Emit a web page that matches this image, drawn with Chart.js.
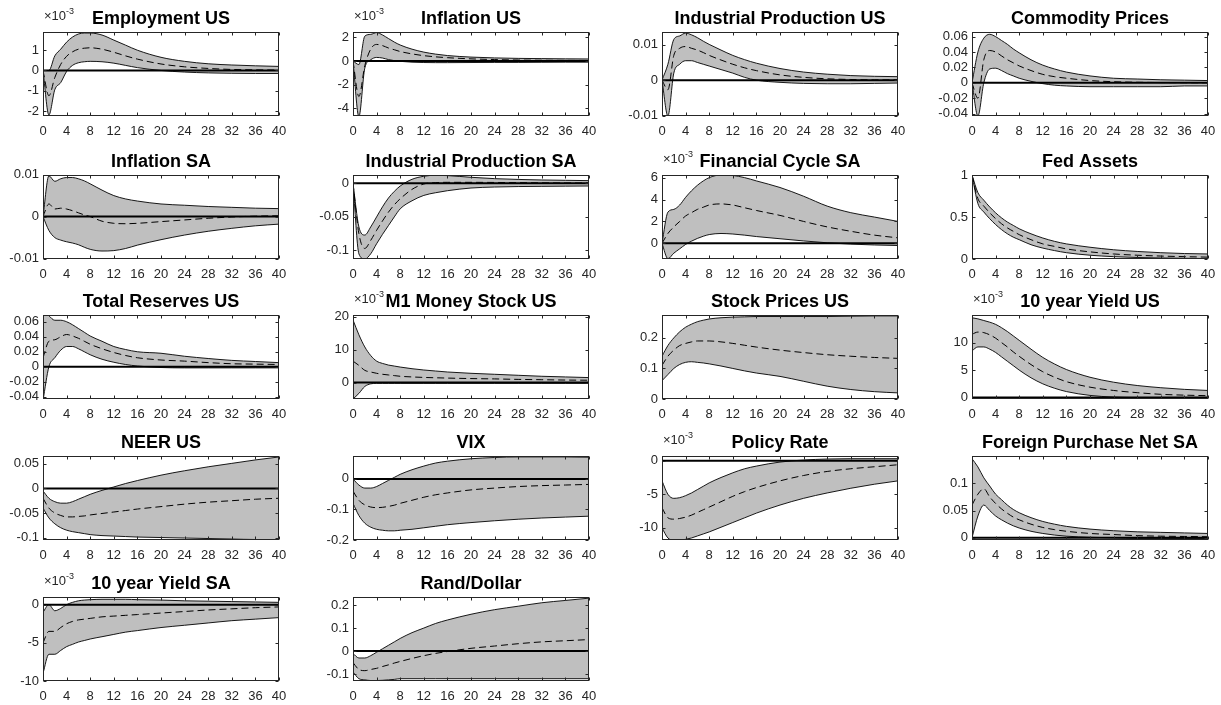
<!DOCTYPE html>
<html>
<head>
<meta charset="utf-8">
<script src="https://cdn.jsdelivr.net/npm/chart.js@4.4.1/dist/chart.umd.min.js"></script>
<style>
html, body { margin: 0; padding: 0; background: #fff; }
#fig { position: relative; width: 1221px; height: 705px; overflow: hidden; background: #fff; }
#fig canvas { position: absolute; }
</style>
</head>
<body>
<div id="fig"></div>
<script>
// impulse response horizons (quarters) and axis ticks
const horizons = [0, 1, 2, 3, 4, 5, 6, 7, 8, 10, 12, 14, 16, 20, 24, 28, 32, 36, 40];
const xTicks = [0, 4, 8, 12, 16, 20, 24, 28, 32, 36, 40];

// Employment US (x 1e-3)
const empUSHi  = [0, 0.0, 0.72, 1.05, 1.4, 1.65, 1.8, 1.85, 1.85, 1.75, 1.5, 1.25, 1.0, 0.65, 0.45, 0.33, 0.27, 0.23, 0.2];
const empUSMid = [0, -1.25, -0.35, 0.3, 0.7, 0.92, 1.05, 1.1, 1.12, 1.05, 0.9, 0.72, 0.56, 0.32, 0.18, 0.1, 0.05, 0.03, 0.02];
const empUSLo  = [0, -2.2, -0.95, -0.6, -0.05, 0.25, 0.38, 0.43, 0.45, 0.43, 0.36, 0.25, 0.14, 0.0, -0.08, -0.12, -0.14, -0.15, -0.15];

// Inflation US (x 1e-3)
const inflUSHi  = [0, -0.3, 2.1, 2.25, 2.4, 2.2, 1.9, 1.6, 1.35, 1.0, 0.75, 0.58, 0.46, 0.33, 0.26, 0.22, 0.2, 0.18, 0.17];
const inflUSMid = [0, -3.0, -0.4, 1.0, 1.4, 1.3, 1.1, 0.95, 0.8, 0.6, 0.45, 0.35, 0.28, 0.18, 0.12, 0.08, 0.06, 0.05, 0.04];
const inflUSLo  = [0, -4.7, -0.6, 0.1, 0.3, 0.25, 0.12, 0.03, -0.03, -0.1, -0.13, -0.14, -0.14, -0.13, -0.12, -0.12, -0.11, -0.1, -0.1];

// Industrial Production US
const ipUSHi  = [0, 0.0045, 0.0115, 0.0125, 0.0133, 0.0128, 0.012, 0.011, 0.0101, 0.0085, 0.007, 0.0058, 0.0048, 0.0033, 0.0023, 0.0017, 0.0013, 0.0011, 0.001];
const ipUSMid = [0, -0.0027, 0.007, 0.009, 0.0095, 0.009, 0.0085, 0.0078, 0.007, 0.0057, 0.0045, 0.0035, 0.0027, 0.0015, 0.0008, 0.0004, 0.0002, 0.0001, 0.0001];
const ipUSLo  = [0, -0.0101, 0.002, 0.0045, 0.0055, 0.0055, 0.005, 0.0045, 0.004, 0.003, 0.002, 0.0008, 0.0, -0.0006, -0.0009, -0.001, -0.001, -0.0009, -0.0008];

// Commodity Prices
const comHi  = [0, 0.04, 0.058, 0.063, 0.06, 0.055, 0.05, 0.044, 0.039, 0.03, 0.023, 0.018, 0.014, 0.009, 0.006, 0.005, 0.004, 0.0035, 0.003];
const comMid = [0, -0.02, 0.03, 0.042, 0.04, 0.035, 0.03, 0.026, 0.022, 0.016, 0.011, 0.008, 0.006, 0.003, 0.0015, 0.0008, 0.0004, 0.0002, 0.0001];
const comLo  = [0, -0.043, 0.0, 0.018, 0.019, 0.016, 0.012, 0.009, 0.006, 0.002, -0.001, -0.003, -0.004, -0.005, -0.005, -0.005, -0.005, -0.004, -0.004];

// Inflation SA
const inflSAHi  = [0, 0.0097, 0.0084, 0.009, 0.0093, 0.0093, 0.009, 0.0085, 0.0078, 0.0063, 0.005, 0.0042, 0.0037, 0.003, 0.0027, 0.0024, 0.0022, 0.002, 0.0019];
const inflSAMid = [0, 0.003, 0.0018, 0.002, 0.0018, 0.0014, 0.0009, 0.0004, 0, -0.0011, -0.0016, -0.0017, -0.0016, -0.0012, -0.0008, -0.0004, -0.0001, 0.0001, 0.0002];
const inflSALo  = [0, -0.0033, -0.005, -0.0056, -0.006, -0.0063, -0.0067, -0.0073, -0.0078, -0.0082, -0.0081, -0.0076, -0.0068, -0.0055, -0.0044, -0.0035, -0.0028, -0.0022, -0.0018];

// Industrial Production SA
const ipSAHi  = [0, -0.065, -0.077, -0.065, -0.05, -0.035, -0.022, -0.012, -0.004, 0.006, 0.0105, 0.012, 0.0115, 0.009, 0.007, 0.0058, 0.005, 0.0045, 0.004];
const ipSAMid = [0, -0.075, -0.097, -0.085, -0.07, -0.056, -0.043, -0.032, -0.023, -0.009, -0.001, 0.001, 0.0015, 0.0015, 0.0013, 0.001, 0.0008, 0.0006, 0.0005];
const ipSALo  = [0, -0.105, -0.113, -0.105, -0.09, -0.076, -0.063, -0.05, -0.038, -0.026, -0.018, -0.014, -0.011, -0.007, -0.0055, -0.0048, -0.0045, -0.0042, -0.004];

// Financial Cycle SA (x 1e-3)
const fcHi  = [0, 2.85, 3.1, 3.5, 4.2, 4.8, 5.3, 5.7, 6.0, 6.25, 6.2, 6.0, 5.7, 5.1, 4.3, 3.4, 2.8, 2.4, 2.0];
const fcMid = [0, 0.9, 1.5, 2.0, 2.5, 2.8, 3.1, 3.3, 3.5, 3.6, 3.5, 3.25, 3.0, 2.55, 2.0, 1.5, 1.1, 0.75, 0.5];
const fcLo  = [0, -1.4, -0.9, -0.5, -0.1, 0.2, 0.45, 0.65, 0.8, 0.9, 0.85, 0.75, 0.62, 0.42, 0.22, 0.05, -0.07, -0.15, -0.2];

// Fed Assets
const fedHi  = [1, 0.79, 0.7, 0.62, 0.55, 0.49, 0.44, 0.4, 0.36, 0.3, 0.25, 0.21, 0.18, 0.14, 0.11, 0.09, 0.075, 0.065, 0.06];
const fedMid = [1, 0.72, 0.63, 0.55, 0.48, 0.42, 0.37, 0.33, 0.29, 0.23, 0.18, 0.15, 0.12, 0.085, 0.06, 0.045, 0.035, 0.028, 0.022];
const fedLo  = [1, 0.66, 0.56, 0.48, 0.41, 0.35, 0.3, 0.26, 0.23, 0.17, 0.13, 0.1, 0.075, 0.045, 0.028, 0.018, 0.012, 0.008, 0.005];

// Total Reserves US
const resHi  = [0.075, 0.068, 0.062, 0.062, 0.06, 0.056, 0.051, 0.046, 0.041, 0.034, 0.027, 0.023, 0.02, 0.018, 0.014, 0.011, 0.0085, 0.007, 0.0055];
const resMid = [0.012, 0.034, 0.036, 0.04, 0.043, 0.041, 0.038, 0.034, 0.03, 0.024, 0.019, 0.015, 0.012, 0.009, 0.0075, 0.0055, 0.004, 0.0035, 0.003];
const resLo  = [-0.045, 0.0, 0.012, 0.022, 0.027, 0.027, 0.024, 0.02, 0.016, 0.01, 0.006, 0.003, 0.001, -0.001, -0.0015, -0.0015, -0.0015, -0.0015, -0.0015];

// M1 Money Stock US (x 1e-3)
const m1Hi  = [19, 14.5, 10.8, 8.2, 6.5, 5.8, 5.3, 5.0, 4.7, 4.2, 3.8, 3.5, 3.2, 2.8, 2.5, 2.2, 1.9, 1.7, 1.5];
const m1Mid = [6.5, 5.2, 3.7, 3.2, 2.8, 2.5, 2.3, 2.1, 1.9, 1.7, 1.55, 1.45, 1.35, 1.2, 1.1, 0.95, 0.85, 0.75, 0.7];
const m1Lo  = [-5, -3.3, -1.2, -0.4, -0.25, -0.25, -0.25, -0.25, -0.25, -0.25, -0.25, -0.25, -0.25, -0.25, -0.25, -0.25, -0.25, -0.25, -0.25];

// Stock Prices US
const stkHi  = [0.14, 0.175, 0.2, 0.22, 0.235, 0.245, 0.253, 0.258, 0.262, 0.266, 0.268, 0.269, 0.27, 0.27, 0.27, 0.27, 0.271, 0.272, 0.272];
const stkMid = [0.11, 0.14, 0.16, 0.175, 0.182, 0.187, 0.19, 0.19, 0.19, 0.187, 0.182, 0.176, 0.17, 0.16, 0.152, 0.145, 0.14, 0.136, 0.133];
const stkLo  = [0.06, 0.08, 0.1, 0.113, 0.12, 0.122, 0.12, 0.118, 0.115, 0.108, 0.1, 0.092, 0.085, 0.074, 0.058, 0.042, 0.031, 0.024, 0.02];

// 10 year Yield US (x 1e-3)
const y10USHi  = [14.5, 14.3, 14.0, 13.7, 13.3, 12.7, 12.0, 11.2, 10.4, 8.8, 7.3, 6.1, 5.1, 3.7, 2.8, 2.2, 1.8, 1.5, 1.3];
const y10USMid = [11.5, 11.9, 11.8, 11.4, 10.8, 10.0, 9.2, 8.3, 7.5, 6.0, 4.7, 3.7, 2.9, 1.9, 1.3, 0.9, 0.6, 0.45, 0.35];
const y10USLo  = [8.5, 9.2, 9.2, 8.8, 8.2, 7.4, 6.6, 5.8, 5.0, 3.6, 2.5, 1.7, 1.1, 0.4, 0.1, 0.0, -0.1, -0.1, -0.1];

// NEER US
const neerHi  = [-0.005, -0.02, -0.027, -0.03, -0.03, -0.027, -0.022, -0.017, -0.012, -0.004, 0.003, 0.01, 0.016, 0.027, 0.036, 0.044, 0.051, 0.058, 0.064];
const neerMid = [-0.02, -0.04, -0.05, -0.055, -0.058, -0.058, -0.057, -0.056, -0.054, -0.051, -0.048, -0.045, -0.042, -0.037, -0.032, -0.028, -0.025, -0.022, -0.02];
const neerLo  = [-0.04, -0.06, -0.072, -0.08, -0.085, -0.088, -0.09, -0.092, -0.094, -0.096, -0.097, -0.098, -0.099, -0.1, -0.101, -0.102, -0.103, -0.104, -0.104];

// VIX
const vixHi  = [0, -0.02, -0.03, -0.03, -0.025, -0.015, -0.005, 0.005, 0.015, 0.03, 0.042, 0.052, 0.058, 0.066, 0.07, 0.072, 0.072, 0.072, 0.071];
const vixMid = [-0.04, -0.07, -0.085, -0.092, -0.094, -0.093, -0.09, -0.086, -0.08, -0.07, -0.06, -0.052, -0.046, -0.036, -0.03, -0.025, -0.022, -0.02, -0.018];
const vixLo  = [-0.08, -0.12, -0.145, -0.158, -0.165, -0.168, -0.17, -0.17, -0.168, -0.165, -0.16, -0.155, -0.15, -0.143, -0.137, -0.132, -0.128, -0.125, -0.122];

// Policy Rate (x 1e-3)
const polHi  = [-3, -5, -5.6, -5.5, -5.2, -4.8, -4.3, -3.8, -3.3, -2.5, -1.8, -1.2, -0.8, -0.2, 0.1, 0.25, 0.3, 0.3, 0.3];
const polMid = [-7, -8.5, -8.7, -8.6, -8.4, -8.1, -7.7, -7.3, -6.9, -6.1, -5.3, -4.6, -4.0, -3.0, -2.2, -1.6, -1.2, -0.9, -0.6];
const polLo  = [-10, -11.5, -11.8, -11.8, -11.7, -11.5, -11.2, -10.9, -10.6, -9.9, -9.2, -8.5, -7.8, -6.6, -5.6, -4.8, -4.1, -3.5, -3.0];

// Foreign Purchase Net SA
const fpHi  = [0.145, 0.13, 0.11, 0.095, 0.08, 0.07, 0.06, 0.052, 0.046, 0.037, 0.03, 0.025, 0.021, 0.016, 0.013, 0.011, 0.01, 0.009, 0.008];
const fpMid = [0.06, 0.08, 0.09, 0.075, 0.063, 0.053, 0.045, 0.038, 0.033, 0.025, 0.019, 0.015, 0.012, 0.008, 0.006, 0.004, 0.003, 0.0025, 0.002];
const fpLo  = [0.0, 0.04, 0.06, 0.05, 0.04, 0.033, 0.027, 0.022, 0.018, 0.012, 0.008, 0.005, 0.003, 0.001, 0.0, -0.001, -0.001, -0.001, -0.001];

// 10 year Yield SA (x 1e-3)
const y10SAHi  = [-1.0, 0, -0.8, -0.5, 0, 0.3, 0.5, 0.6, 0.65, 0.7, 0.7, 0.7, 0.65, 0.6, 0.5, 0.45, 0.4, 0.35, 0.3];
const y10SAMid = [-5, -3.5, -3.5, -3.0, -2.5, -2.2, -2.0, -1.9, -1.8, -1.6, -1.5, -1.4, -1.3, -1.1, -0.9, -0.7, -0.55, -0.4, -0.3];
const y10SALo  = [-9, -6.5, -6.5, -6, -5.5, -5.2, -4.9, -4.7, -4.5, -4.2, -3.9, -3.6, -3.4, -3.0, -2.7, -2.4, -2.1, -1.9, -1.7];

// Rand/Dollar
const randHi  = [-0.01, -0.03, -0.03, -0.02, -0.005, 0.01, 0.025, 0.04, 0.055, 0.08, 0.1, 0.12, 0.135, 0.16, 0.18, 0.195, 0.21, 0.22, 0.23];
const randMid = [-0.05, -0.08, -0.085, -0.08, -0.075, -0.067, -0.06, -0.052, -0.045, -0.032, -0.02, -0.01, -0.002, 0.012, 0.022, 0.032, 0.04, 0.045, 0.05];
const randLo  = [-0.09, -0.12, -0.125, -0.128, -0.128, -0.127, -0.125, -0.123, -0.12, -0.12, -0.12, -0.12, -0.12, -0.12, -0.12, -0.12, -0.12, -0.12, -0.12];

// panel list: title, bands, y range, y ticks and their labels, exponent flag
const panels = [
  { title: 'Employment US', hi: empUSHi, mid: empUSMid, lo: empUSLo, yMin: -2.25, yMax: 1.9, yTicks: [-2, -1, 0, 1], yLabels: ['-2', '-1', '0', '1'], exp: true },
  { title: 'Inflation US', hi: inflUSHi, mid: inflUSMid, lo: inflUSLo, yMin: -4.65, yMax: 2.45, yTicks: [-4, -2, 0, 2], yLabels: ['-4', '-2', '0', '2'], exp: true },
  { title: 'Industrial Production US', hi: ipUSHi, mid: ipUSMid, lo: ipUSLo, yMin: -0.0101, yMax: 0.0136, yTicks: [-0.01, 0, 0.01], yLabels: ['-0.01', '0', '0.01'] },
  { title: 'Commodity Prices', hi: comHi, mid: comMid, lo: comLo, yMin: -0.043, yMax: 0.066, yTicks: [-0.04, -0.02, 0, 0.02, 0.04, 0.06], yLabels: ['-0.04', '-0.02', '0', '0.02', '0.04', '0.06'] },
  { title: 'Inflation SA', hi: inflSAHi, mid: inflSAMid, lo: inflSALo, yMin: -0.0101, yMax: 0.0099, yTicks: [-0.01, 0, 0.01], yLabels: ['-0.01', '0', '0.01'] },
  { title: 'Industrial Production SA', hi: ipSAHi, mid: ipSAMid, lo: ipSALo, yMin: -0.1127, yMax: 0.0124, yTicks: [-0.1, -0.05, 0], yLabels: ['-0.1', '-0.05', '0'] },
  { title: 'Financial Cycle SA', hi: fcHi, mid: fcMid, lo: fcLo, yMin: -1.43, yMax: 6.24, yTicks: [0, 2, 4, 6], yLabels: ['0', '2', '4', '6'], exp: true },
  { title: 'Fed Assets', hi: fedHi, mid: fedMid, lo: fedLo, yMin: 0, yMax: 1, yTicks: [0, 0.5, 1], yLabels: ['0', '0.5', '1'] },
  { title: 'Total Reserves US', hi: resHi, mid: resMid, lo: resLo, yMin: -0.043, yMax: 0.069, yTicks: [-0.04, -0.02, 0, 0.02, 0.04, 0.06], yLabels: ['-0.04', '-0.02', '0', '0.02', '0.04', '0.06'] },
  { title: 'M1 Money Stock US', hi: m1Hi, mid: m1Mid, lo: m1Lo, yMin: -5, yMax: 20.5, yTicks: [0, 10, 20], yLabels: ['0', '10', '20'], exp: true },
  { title: 'Stock Prices US', hi: stkHi, mid: stkMid, lo: stkLo, yMin: 0, yMax: 0.275, yTicks: [0, 0.1, 0.2], yLabels: ['0', '0.1', '0.2'] },
  { title: '10 year Yield US', hi: y10USHi, mid: y10USMid, lo: y10USLo, yMin: -0.25, yMax: 15, yTicks: [0, 5, 10], yLabels: ['0', '5', '10'], exp: true },
  { title: 'NEER US', hi: neerHi, mid: neerMid, lo: neerLo, yMin: -0.105, yMax: 0.066, yTicks: [-0.1, -0.05, 0, 0.05], yLabels: ['-0.1', '-0.05', '0', '0.05'] },
  { title: 'VIX', hi: vixHi, mid: vixMid, lo: vixLo, yMin: -0.2, yMax: 0.075, yTicks: [-0.2, -0.1, 0], yLabels: ['-0.2', '-0.1', '0'] },
  { title: 'Policy Rate', hi: polHi, mid: polMid, lo: polLo, yMin: -11.8, yMax: 0.7, yTicks: [-10, -5, 0], yLabels: ['-10', '-5', '0'], exp: true },
  { title: 'Foreign Purchase Net SA', hi: fpHi, mid: fpMid, lo: fpLo, yMin: -0.004, yMax: 0.15, yTicks: [0, 0.05, 0.1], yLabels: ['0', '0.05', '0.1'] },
  { title: '10 year Yield SA', hi: y10SAHi, mid: y10SAMid, lo: y10SALo, yMin: -10, yMax: 1, yTicks: [-10, -5, 0], yLabels: ['-10', '-5', '0'], exp: true },
  { title: 'Rand/Dollar', hi: randHi, mid: randMid, lo: randLo, yMin: -0.13, yMax: 0.235, yTicks: [-0.1, 0, 0.1, 0.2], yLabels: ['-0.1', '0', '0.1', '0.2'] }
];

const FONT = '"Liberation Sans", Arial, Helvetica, sans-serif';
const AXIS_COLOR = '#262626';
const BAND_COLOR = '#bfbfbf';
const plotLeft = [43, 353, 662, 972];
const plotTop = [32, 175, 315, 456, 597];
const PW = 236, PH = 84;
const MARGIN = 50, TITLE_H = 30, XAXIS_H = 22;

// box around the axes, inward tick marks on all four sides, x10^-3 label
const axesBox = {
  id: 'axesBox',
  afterDatasetsDraw(chart, args, opts) {
    const { ctx, chartArea: a, scales } = chart;
    const x = scales.x, y = scales.y;
    const L = Math.round(a.left) + 0.5, R = Math.round(a.right) - 0.5;
    const T = Math.round(a.top) + 0.5, B = Math.round(a.bottom) - 0.5;
    ctx.save();
    ctx.strokeStyle = AXIS_COLOR;
    ctx.lineWidth = 1;
    ctx.beginPath();
    xTicks.forEach(v => {
      const px = Math.round(x.getPixelForValue(v)) + 0.5;
      ctx.moveTo(px, B); ctx.lineTo(px, B - 3);
      ctx.moveTo(px, T); ctx.lineTo(px, T + 3);
    });
    y.ticks.forEach(t => {
      const py = Math.round(y.getPixelForValue(t.value)) + 0.5;
      ctx.moveTo(L, py); ctx.lineTo(L + 3, py);
      ctx.moveTo(R, py); ctx.lineTo(R - 3, py);
    });
    ctx.stroke();
    ctx.strokeRect(L, T, R - L, B - T);
    if (opts.exp) {
      ctx.fillStyle = AXIS_COLOR;
      ctx.textBaseline = 'alphabetic';
      ctx.textAlign = 'left';
      ctx.font = '13px ' + FONT;
      ctx.fillText('\u00d710', a.left + 1, a.top - 12);
      const w = ctx.measureText('\u00d710').width;
      ctx.font = '9px ' + FONT;
      ctx.fillText('-3', a.left + 1 + w, a.top - 18);
    }
    ctx.restore();
  }
};

const toPoints = arr => horizons.map((h, i) => ({ x: h, y: arr[i] }));

const fig = document.getElementById('fig');

panels.forEach((p, k) => {
  const col = k % 4, row = Math.floor(k / 4);
  const canvas = document.createElement('canvas');
  canvas.width = PW + 2 * MARGIN;
  canvas.height = TITLE_H + PH + XAXIS_H;
  canvas.style.left = (plotLeft[col] - MARGIN) + 'px';
  canvas.style.top = (plotTop[row] - TITLE_H) + 'px';
  fig.appendChild(canvas);

  new Chart(canvas.getContext('2d'), {
    type: 'line',
    data: {
      datasets: [
        { data: [{ x: 0, y: 0 }, { x: 40, y: 0 }], borderColor: '#000', borderWidth: 2, pointRadius: 0, fill: false },
        { data: toPoints(p.hi), borderColor: '#000', borderWidth: 0.9, backgroundColor: BAND_COLOR, fill: '+1', pointRadius: 0, cubicInterpolationMode: 'monotone' },
        { data: toPoints(p.lo), borderColor: '#000', borderWidth: 0.9, fill: false, pointRadius: 0, cubicInterpolationMode: 'monotone' },
        { data: toPoints(p.mid), borderColor: '#000', borderWidth: 1, borderDash: [7, 4], fill: false, pointRadius: 0, cubicInterpolationMode: 'monotone' }
      ]
    },
    options: {
      responsive: false,
      devicePixelRatio: 1,
      animation: false,
      events: [],
      layout: { padding: 0 },
      scales: {
        x: {
          type: 'linear', min: 0, max: 40,
          afterBuildTicks: s => { s.ticks = xTicks.map(v => ({ value: v })); },
          afterFit: s => { s.height = XAXIS_H; },
          grid: { display: false, drawTicks: false },
          border: { display: false },
          ticks: { font: { family: FONT, size: 13 }, color: AXIS_COLOR, padding: 8, maxRotation: 0, autoSkip: false }
        },
        y: {
          type: 'linear', position: 'left', min: p.yMin, max: p.yMax,
          afterBuildTicks: s => { s.ticks = p.yTicks.map(v => ({ value: v })); },
          afterFit: s => { s.width = MARGIN; },
          grid: { display: false, drawTicks: false },
          border: { display: false },
          ticks: { font: { family: FONT, size: 13 }, color: AXIS_COLOR, padding: 4, autoSkip: false, callback: (v, i) => p.yLabels[i] }
        },
        yRight: {
          type: 'linear', position: 'right', min: 0, max: 1,
          afterFit: s => { s.width = MARGIN; },
          grid: { display: false, drawTicks: false },
          border: { display: false },
          ticks: { display: false }
        }
      },
      plugins: {
        legend: { display: false },
        tooltip: { enabled: false },
        filler: { drawTime: 'beforeDatasetsDraw' },
        title: {
          display: true, text: p.title, color: '#000',
          font: { family: FONT, size: 18, weight: 'bold', lineHeight: 1.2 },
          padding: { top: 6, bottom: 2.4 }
        },
        axesBox: { exp: !!p.exp }
      }
    },
    plugins: [axesBox]
  });
});
</script>
</body>
</html>
